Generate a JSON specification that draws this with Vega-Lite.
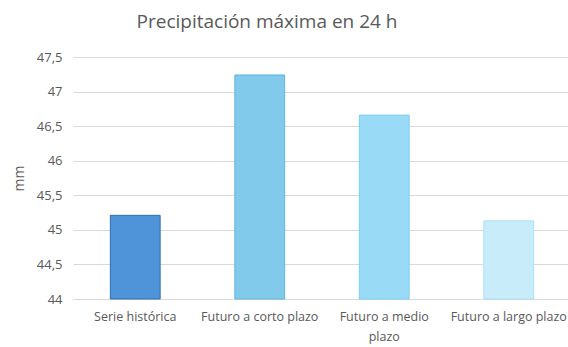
{
  "$schema": "https://vega.github.io/schema/vega-lite/v6.json",
  "autosize": "none",
  "width": 498,
  "height": 242,
  "padding": {"left": 73, "top": 57, "right": 0, "bottom": 48},
  "background": "white",
  "title": {
    "text": "Precipitación máxima en 24 h",
    "font": "Open Sans",
    "fontSize": 19,
    "fontWeight": "normal",
    "color": "#595959",
    "anchor": "middle",
    "dx": -55,
    "offset": 19
  },
  "data": {
    "values": [
      {"periodo": "Serie histórica", "valor": 45.21, "base": 44, "fill": "#4F94D9", "stroke": "#2F6DB0"},
      {"periodo": "Futuro a corto plazo", "valor": 47.24, "base": 44, "fill": "#82CAEB", "stroke": "#5CB5E2"},
      {"periodo": "Futuro a medio plazo", "valor": 46.66, "base": 44, "fill": "#99DBF7", "stroke": "#79CFF2"},
      {"periodo": "Futuro a largo plazo", "valor": 45.13, "base": 44, "fill": "#C9ECFB", "stroke": "#A9E1F7"}
    ]
  },
  "mark": {"type": "bar", "strokeWidth": 1},
  "encoding": {
    "x": {
      "field": "periodo",
      "type": "nominal",
      "sort": null,
      "scale": {"paddingInner": 0.6, "paddingOuter": 0.3},
      "axis": {
        "title": null,
        "labelAngle": 0,
        "labelFont": "Open Sans",
        "labelFontSize": 12.5,
        "labelColor": "#595959",
        "labelPadding": 11,
        "labelLineHeight": 20,
        "labelLimit": 200,
        "ticks": false,
        "domainColor": "#D9D9D9",
        "labelExpr": "datum.label == 'Futuro a medio plazo' ? ['Futuro a medio', 'plazo'] : datum.label"
      }
    },
    "y": {
      "field": "valor",
      "type": "quantitative",
      "scale": {"domain": [44, 47.5], "nice": false, "zero": false},
      "axis": {
        "title": "mm",
        "titleFont": "Open Sans",
        "titleFontSize": 14,
        "titleFontWeight": "normal",
        "titleColor": "#595959",
        "titlePadding": 10,
        "values": [44, 44.5, 45, 45.5, 46, 46.5, 47, 47.5],
        "format": ".1~f",
        "labelExpr": "replace(datum.label, '.', ',')",
        "labelFont": "Open Sans",
        "labelFontSize": 13,
        "labelColor": "#595959",
        "labelPadding": 11,
        "ticks": false,
        "domain": false,
        "gridColor": "#D9D9D9",
        "gridWidth": 1
      }
    },
    "y2": {"field": "base"},
    "fill": {"field": "fill", "type": "nominal", "scale": null},
    "stroke": {"field": "stroke", "type": "nominal", "scale": null}
  },
  "config": {"view": {"stroke": null}}
}
